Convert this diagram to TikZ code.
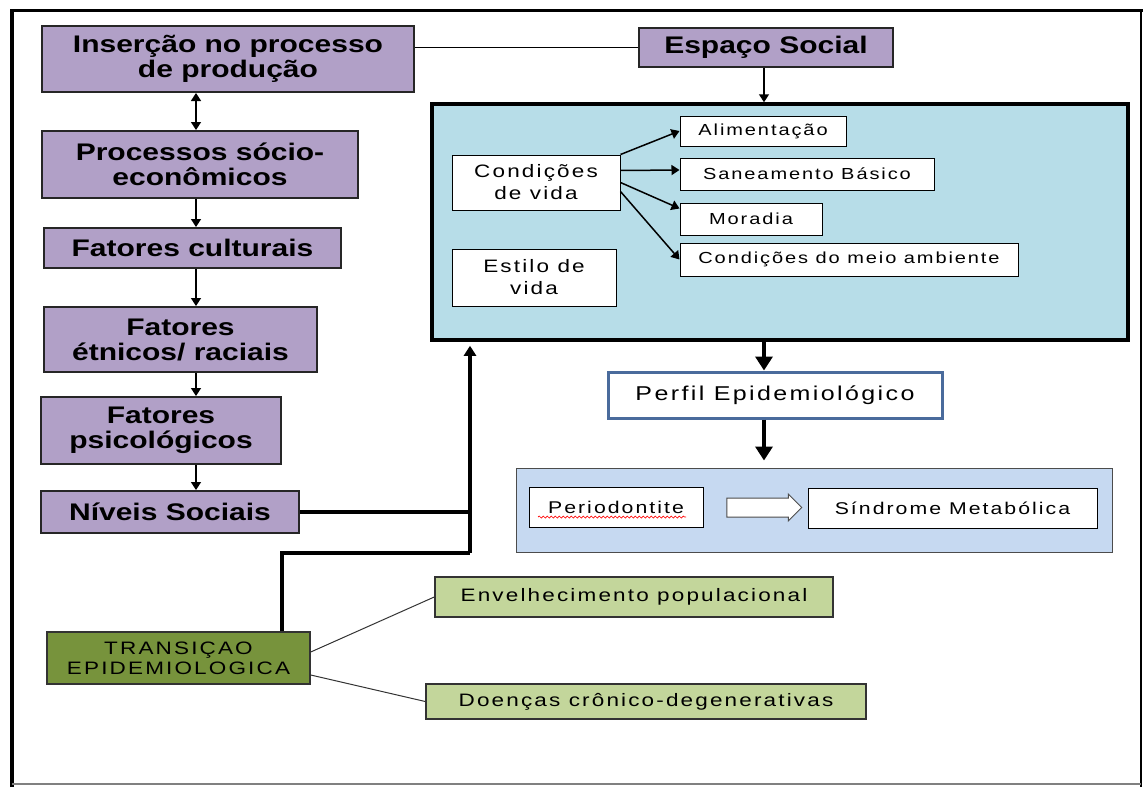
\documentclass[tikz,border=0pt]{standalone}
\usepackage{fontspec}
\setmainfont{Liberation Sans}[FakeStretch=1.25]
\newfontfamily\spacedfont{Liberation Sans}[FakeStretch=1.25,LetterSpace=12]
\usetikzlibrary{arrows.meta,shapes.arrows,decorations.pathmorphing}
\definecolor{boxpurple}{HTML}{B1A0C7}
\definecolor{lightcyan}{HTML}{B7DDE8}
\definecolor{groupblue}{HTML}{C6D9F1}
\definecolor{darkolive}{HTML}{77933C}
\definecolor{palegreen}{HTML}{C3D69B}
\definecolor{perfilblue}{HTML}{4A6B9C}

\begin{document}
\begin{tikzpicture}[x=1pt,y=-1pt,
	purplebox/.style={rectangle, draw=black!85, line width=2pt, fill=boxpurple, align=center, inner sep=0pt, font=\fontsize{24}{25}\selectfont\bfseries},
	whitebox/.style={rectangle, draw=black, line width=1pt, fill=white, align=center, inner sep=0pt, font=\spacedfont\fontsize{16}{20}\selectfont},
	greenbox/.style={rectangle, draw=black!80, line width=1.5pt, fill=palegreen, align=center, inner sep=0pt, font=\spacedfont\fontsize{18}{20}\selectfont},
	linkarrow/.style={line width=1.5pt, -{Triangle[length=8pt,width=10pt]}},
	bigarrow/.style={line width=4.5pt, -{Triangle[length=14pt,width=17pt]}}]
		\useasboundingbox (0,0) rectangle (1145,787);
		% outer frame
		\draw[line width=4pt] (12,787) -- (12,10);
		\draw[line width=3pt] (10,10) -- (1143,10);
		\draw[line width=2.5pt] (1141,10) -- (1141,787);
		\draw[line width=1.5pt, black!50] (12,784) -- (1141,784);
		
		% left column
		\path (228,59) node[purplebox, minimum width=372, minimum height=66] (insercao) {Inserção no processo\\de produção}
		(200,164.5) node[purplebox, minimum width=316, minimum height=67] (processos) {Processos sócio-\\econômicos}
		(192.5,248) node[purplebox, minimum width=297, minimum height=40] (culturais) {Fatores culturais}
		(180.5,339.5) node[purplebox, minimum width=273, minimum height=65] (etnicos) {Fatores\\étnicos/ raciais}
		(161,430.5) node[purplebox, minimum width=240, minimum height=67] (psico) {Fatores\\psicológicos}
		(170,512) node[purplebox, minimum width=258, minimum height=42] (niveis) {Níveis Sociais}
		(766,47.5) node[purplebox, minimum width=254, minimum height=39] (espaco) {Espaço Social};
		
		\coordinate (spine) at (196,0);
		\draw[line width=1.5pt, {Triangle[length=8pt,width=10pt]}-{Triangle[length=8pt,width=10pt]}] (insercao.south -| spine) -- (processos.north -| spine);
		\draw[linkarrow] (processos.south -| spine) -- (culturais.north -| spine);
		\draw[linkarrow] (culturais.south -| spine) -- (etnicos.north -| spine);
		\draw[linkarrow] (etnicos.south -| spine) -- (psico.north -| spine);
		\draw[linkarrow] (psico.south -| spine) -- (niveis.north -| spine);
		\draw[line width=1pt] (espaco.west) -- (espaco.west -| insercao.east);
		
		% condicoes de vida
		\path (780,222) node[rectangle, draw, line width=3.5pt, fill=lightcyan, minimum width=696, minimum height=236] (vida) {};
		\draw[linkarrow] (espaco.south -| 764,0) -- (764,0 |- vida.north);
		\path (536,182.5) node[whitebox, minimum width=168, minimum height=55, font=\spacedfont\fontsize{18}{22}\selectfont] (condicoes) {Condições\\de vida}
		(534,277.5) node[whitebox, minimum width=164, minimum height=57, font=\spacedfont\fontsize{18}{22}\selectfont] (estilo) {Estilo de\\vida}
		(763,131) node[whitebox, minimum width=166, minimum height=30] (alim) {Alimentação}
		(807,174) node[whitebox, minimum width=254, minimum height=32] (saneam) {Saneamento Básico}
		(751,219) node[whitebox, minimum width=142, minimum height=32] (moradia) {Moradia}
		(849,259.5) node[whitebox, minimum width=338, minimum height=33] (meio) {Condições do meio ambiente};
		\draw[linkarrow] (condicoes.north east) -- (alim.west);
		\draw[linkarrow] ([yshift=12pt]condicoes.east) -- ([yshift=4pt]saneam.west);
		\draw[linkarrow] (condicoes.east) -- ([yshift=-6pt]moradia.north west);
		\draw[linkarrow] ([yshift=-9pt]condicoes.east) -- (meio.west);
		
		% perfil
		\path (775,395) node[rectangle, draw=perfilblue, line width=3pt, fill=white, minimum width=334, minimum height=46, font=\spacedfont\fontsize{20}{22}\selectfont] (perfil) {Perfil Epidemiológico};
		\draw[bigarrow] (764,0 |- vida.south) -- (764,0 |- perfil.north);
		\path (814,510) node[rectangle, draw=black!70, line width=1pt, fill=groupblue, minimum width=596, minimum height=84] (grupo) {};
		\draw[bigarrow] (764,0 |- perfil.south) -- ([yshift=7pt]764,0 |- grupo.north);
		\path (616,507) node[whitebox, minimum width=174, minimum height=40, font=\spacedfont\fontsize{17}{20}\selectfont] (perio) {Periodontite}
		(952.5,508) node[whitebox, minimum width=289, minimum height=40, font=\spacedfont\fontsize{17}{20}\selectfont] (sindrome) {Síndrome Metabólica}
		(759.5,507.5) node[single arrow, draw=black!70, line width=1pt, fill=white, inner xsep=0pt, inner ysep=9pt, minimum height=75pt, single arrow head extend=4pt] (seta) {};
		\draw[red, line width=0.7pt, decorate, decoration={snake, amplitude=1pt, segment length=4pt}] (538,517) -- (686,517);
		
		% transicao epidemiologica
		\path (178.5,658) node[rectangle, draw=black!80, line width=1.5pt, fill=darkolive, align=center, inner sep=0pt, minimum width=263, minimum height=52, font=\spacedfont\fontsize{18}{20}\selectfont] (transicao) {TRANSIÇAO\\EPIDEMIOLOGICA}
		(634,597) node[greenbox, minimum width=398, minimum height=40] (envelhec) {Envelhecimento populacional}
		(646,701.5) node[greenbox, minimum width=440, minimum height=35] (doencas) {Doenças crônico-degenerativas};
		\draw[line width=1pt, black!80] ([yshift=6pt]transicao.east) -- (envelhec.west);
		\draw[line width=1pt, black!80] ([yshift=-17pt]transicao.east) -- (doencas.west);
		
		\coordinate (jn) at (470,553);
		\draw[line width=3.5pt] (282,0 |- transicao.north) |- (jn);
		\draw[line width=3.5pt, -{Triangle[length=10pt,width=12pt]}, shorten >=4pt] (jn) -- (jn |- vida.south);
		\draw[line width=3.5pt] (niveis.east) -- (niveis.east -| jn);
		
	\end{tikzpicture}
\end{document}
